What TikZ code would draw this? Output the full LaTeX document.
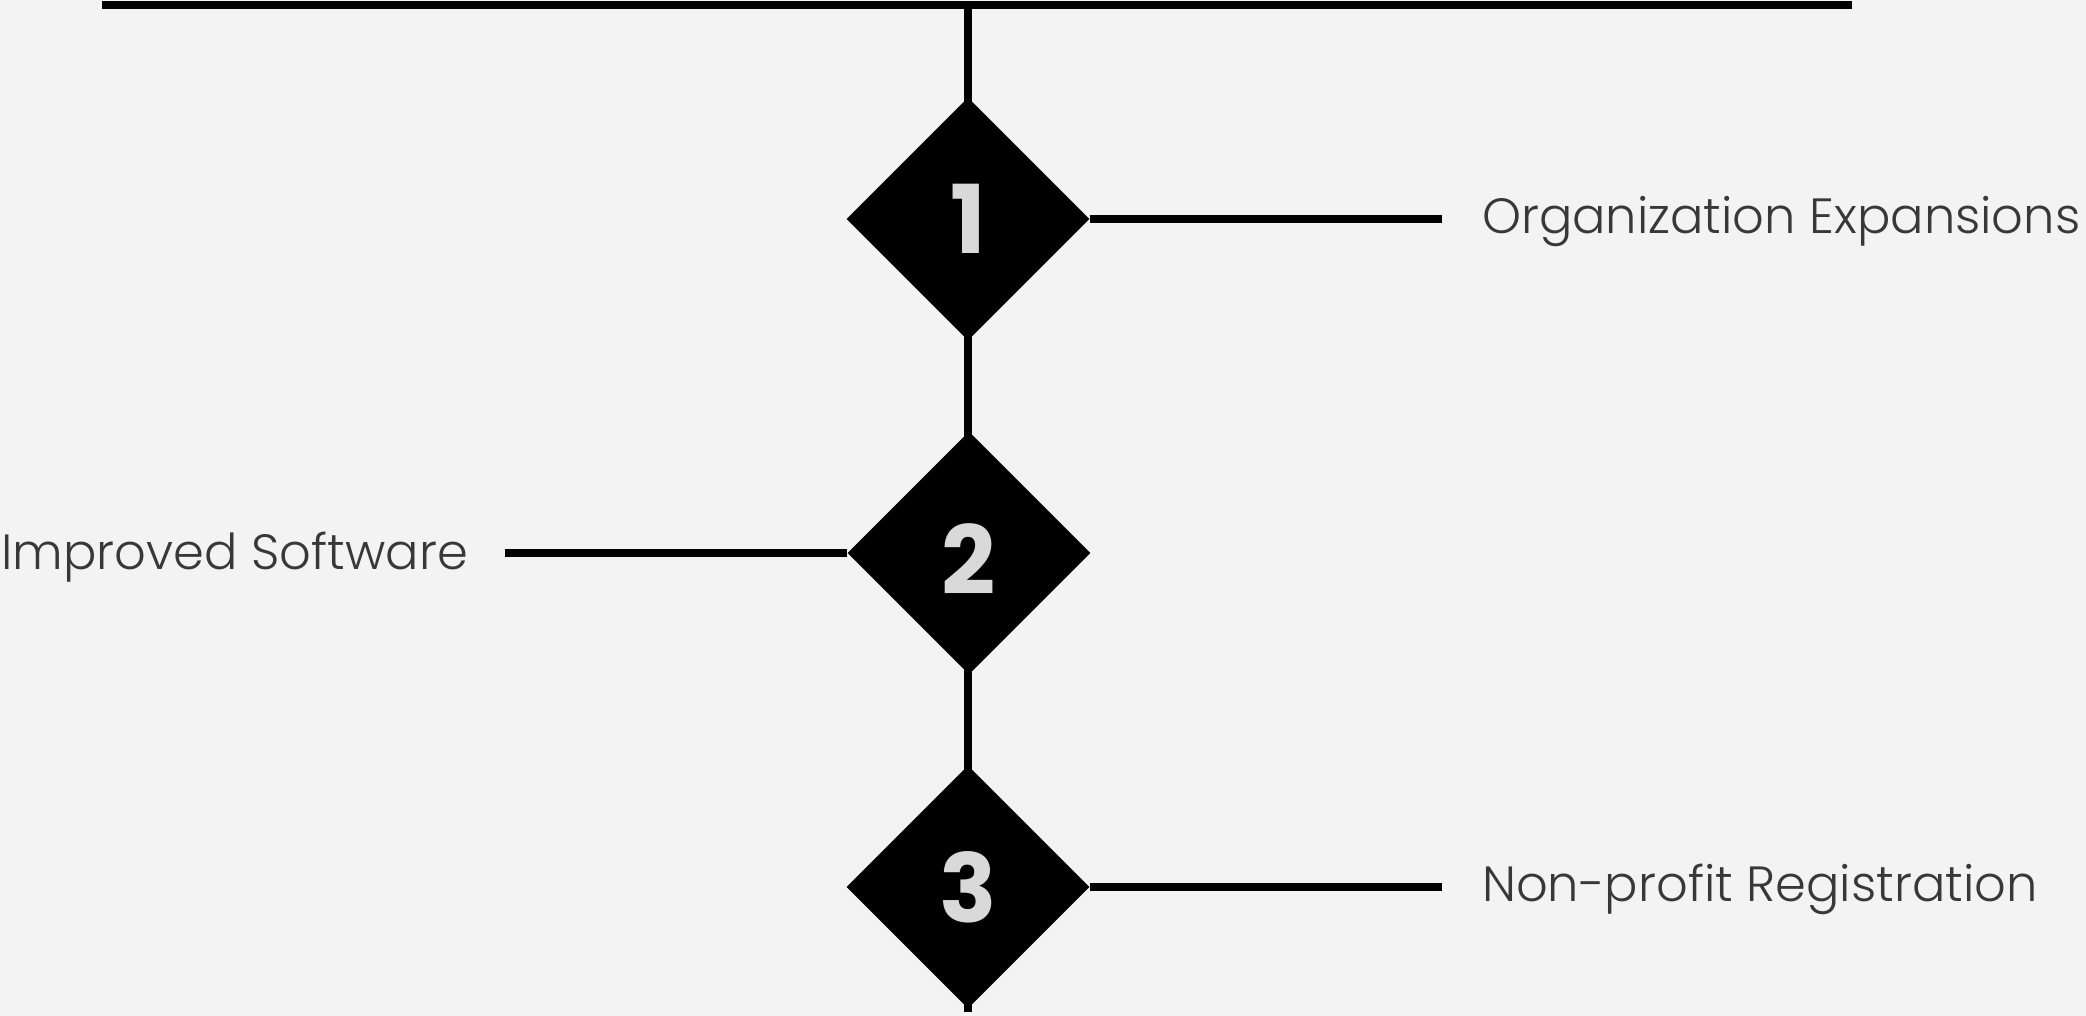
\documentclass[tikz,border=0pt]{standalone}
\usepackage{fontspec}
\setmainfont{Poppins Light}[BoldFont={Poppins Bold}]
\usepackage{tikz}
\usetikzlibrary{shapes.geometric}

\definecolor{pagebg}{HTML}{F3F3F3}
\definecolor{labelgrey}{HTML}{383838}
\definecolor{numgrey}{HTML}{D9D9D9}

\tikzset{
    bar/.style={line width=8pt},
    stepmark/.style={diamond, fill=black, minimum size=243pt, inner sep=0pt, text=numgrey, font=\bfseries\fontsize{95}{95}\selectfont},
    steplabel/.style={inner sep=0pt, text=labelgrey, font=\fontsize{49.5}{49.5}\selectfont}
}

\begin{document}
\begin{tikzpicture}[x=1pt,y=-1pt]
        \useasboundingbox[fill=pagebg] (0,0) rectangle (2086,1016);
        \coordinate (tl) at (102,5);
        \coordinate (tr) at (1852,5);
        \coordinate (top) at (968,5);
        \coordinate (bot) at (968,1012);
        \draw[bar] (tl)--(tr);
        \draw[bar] (top)--(bot);
        \node[stepmark] (d1) at (968,219) {1};
        \node[stepmark] (d2) at (969,553) {\raisebox{-6pt}[\height][0pt]{2}};
        \node[stepmark] (d3) at (968,887) {3};
        \coordinate (c1) at (1442,219);
        \coordinate (c2) at (505,553);
        \coordinate (c3) at (1442,887);
        \draw[bar] (d1.east)--(c1);
        \draw[bar] (d2.west)--(c2);
        \draw[bar] (d3.east)--(c3);
        \node[steplabel, anchor=base west] (t1) at (1482,234) {Organization Expansions};
        \node[steplabel, anchor=base east] (t2) at (468,569) {Improved Software};
        \node[steplabel, anchor=base west] (t3) at (1482,901) {Non-profit Registration};
    \end{tikzpicture}
\end{document}
